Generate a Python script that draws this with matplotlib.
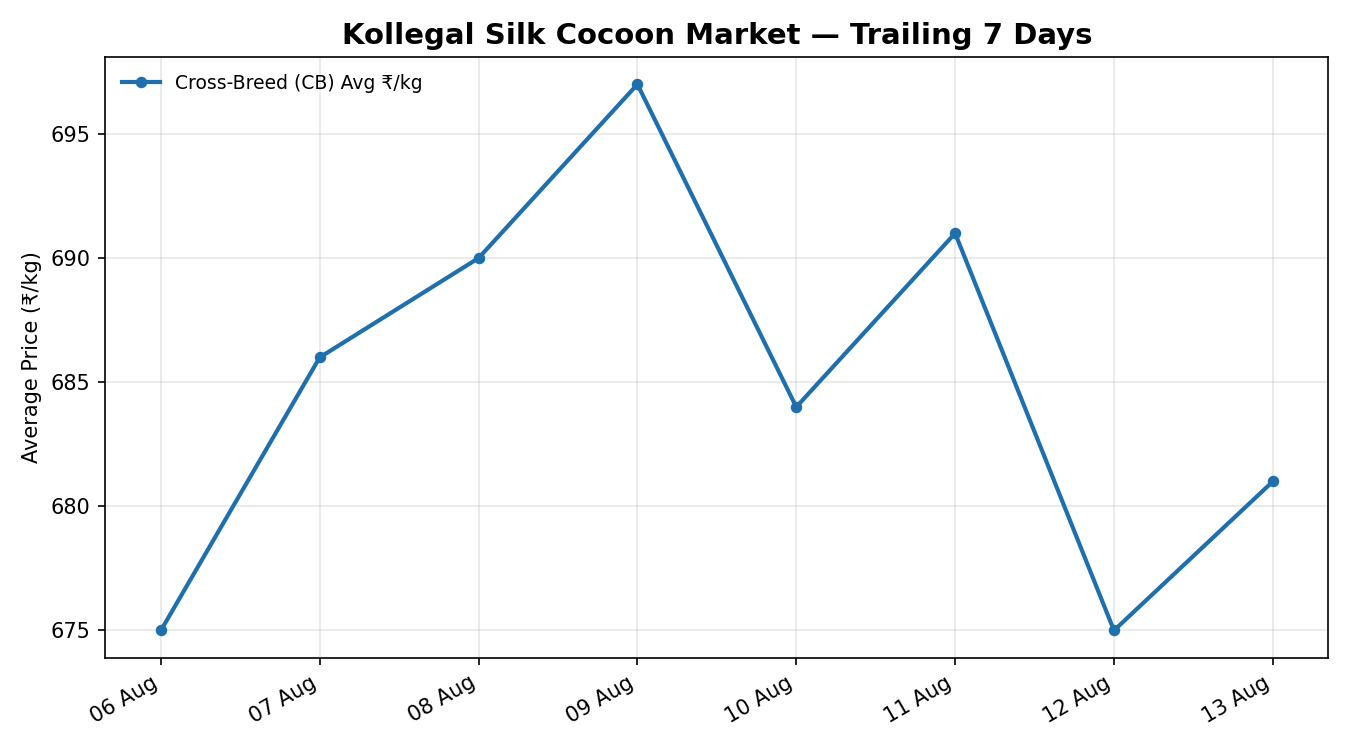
import matplotlib
matplotlib.use("Agg")
import matplotlib.pyplot as plt
import matplotlib.dates as mdates
import pandas as pd

dates = ["2024-08-06", "2024-08-07", "2024-08-08", "2024-08-09",
         "2024-08-10", "2024-08-11", "2024-08-12", "2024-08-13"]
cb_avg = [675, 686, 690, 697, 684, 691, 675, 681]
series_label = "Cross-Breed (CB) Avg ₹/kg"
title = "Kollegal Silk Cocoon Market — Trailing 7 Days"
ylabel = "Average Price (₹/kg)"

x = pd.to_datetime(dates)

fig, ax = plt.subplots(figsize=(9, 5), dpi=150)
ax.plot(x, cb_avg, color="#1f6fad", linewidth=2.0, marker="o", markersize=4.5,
        label=series_label)
ax.set_title(title, fontsize=14, fontweight="bold")
ax.set_ylabel(ylabel)
ax.grid(True, alpha=0.3)
ax.xaxis.set_major_locator(mdates.DayLocator())
ax.xaxis.set_major_formatter(mdates.DateFormatter("%d %b"))
ax.legend(loc="upper left", frameon=False, fontsize=9)
fig.autofmt_xdate(rotation=30, ha="right")
fig.subplots_adjust(left=0.078, right=0.984, top=0.924, bottom=0.123)
fig.savefig("out.png", dpi=150)
